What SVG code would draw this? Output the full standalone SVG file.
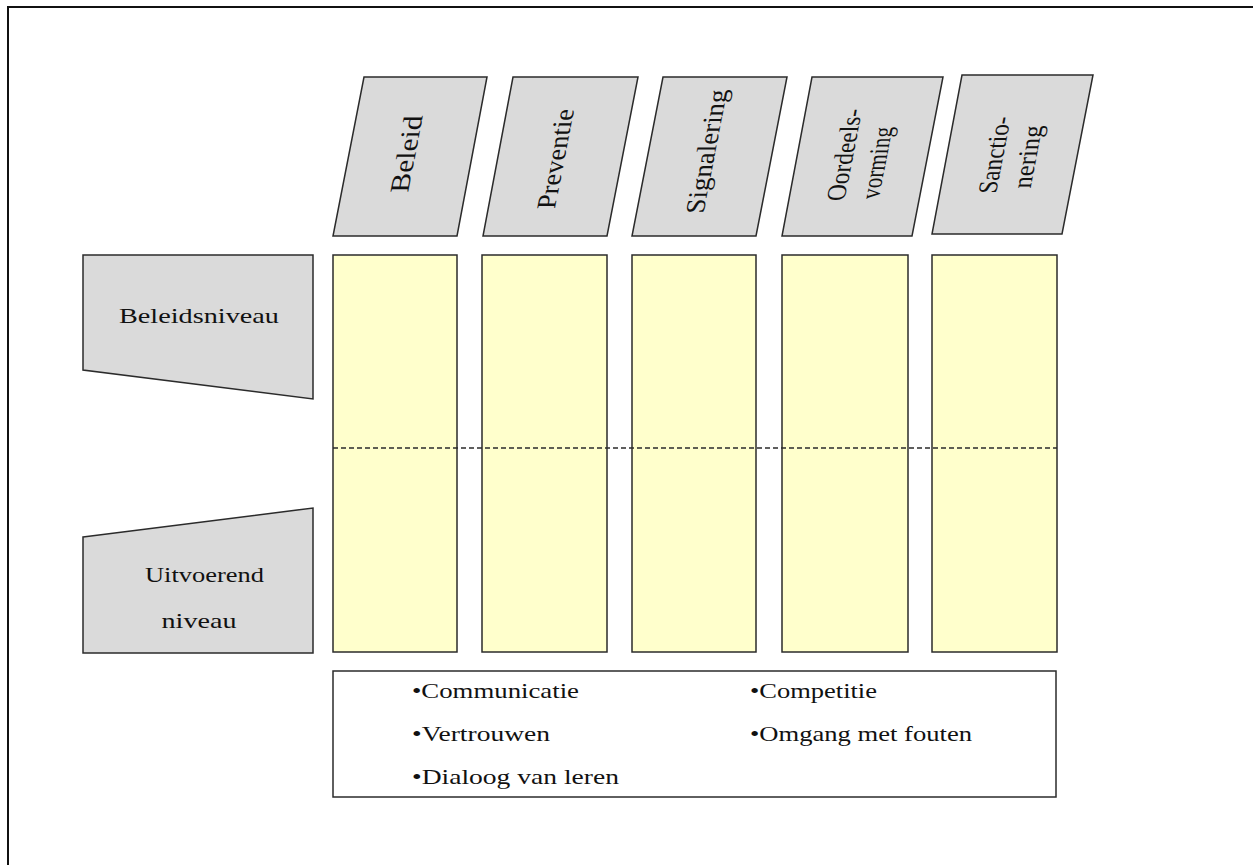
<svg xmlns="http://www.w3.org/2000/svg" width="1253" height="865" viewBox="0 0 1253 865">
  <style>
    .hdr { fill: #dadada; stroke: #2b2b2b; stroke-width: 1.5; }
    .col { fill: #ffffcc; stroke: #2b2b2b; stroke-width: 1.5; }
    .box { fill: #ffffff; stroke: #2b2b2b; stroke-width: 1.5; }
    .t { font-family: "Liberation Serif", "Times New Roman", serif; fill: #111; }
    .th { font-size: 27px; text-anchor: middle; }
    .tl { font-size: 22px; text-anchor: middle; }
    .tb { font-size: 21px; }
  </style>
  <rect width="1253" height="865" fill="#ffffff"/>
  <polyline points="8,865 8,7 1253,7" fill="none" stroke="#111" stroke-width="2"/>

  <g id="col-beleid"><rect class="col" x="333" y="255" width="124" height="397"/></g>
  <g id="col-preventie"><rect class="col" x="482" y="255" width="125" height="397"/></g>
  <g id="col-signalering"><rect class="col" x="632" y="255" width="124" height="397"/></g>
  <g id="col-oordeelsvorming"><rect class="col" x="782" y="255" width="126" height="397"/></g>
  <g id="col-sanctionering"><rect class="col" x="932" y="255" width="125" height="397"/></g>

  <g id="connectors">
    <line x1="333" y1="448" x2="1057" y2="448" stroke="#2b2b2b" stroke-width="1.3" stroke-dasharray="5,3"/>
  </g>

  <g id="hdr-beleid">
    <polygon class="hdr" points="364,77 487,77 457,236 333,236"/>
    <g transform="translate(410,156.5) skewX(-11) rotate(-90)">
      <text class="t th" x="2.5" y="5" textLength="77" lengthAdjust="spacingAndGlyphs">Beleid</text>
    </g>
  </g>
  <g id="hdr-preventie">
    <polygon class="hdr" points="513,77 638,77 607,236 483,236"/>
    <g transform="translate(560,156.5) skewX(-11) rotate(-90)">
      <text class="t th" x="-2.5" y="5" textLength="100" lengthAdjust="spacingAndGlyphs">Preventie</text>
    </g>
  </g>
  <g id="hdr-signalering">
    <polygon class="hdr" points="663,77 787,77 756,236 632,236"/>
    <g transform="translate(709.5,156.5) skewX(-11) rotate(-90)">
      <text class="t th" x="5" y="5" textLength="124" lengthAdjust="spacingAndGlyphs">Signalering</text>
    </g>
  </g>
  <g id="hdr-oordeelsvorming">
    <polygon class="hdr" points="812,77 943,77 912,236 782,236"/>
    <g transform="translate(862,156.5) skewX(-11) rotate(-90)">
      <text class="t th" x="1.5" y="-9" textLength="92" lengthAdjust="spacingAndGlyphs">Oordeels-</text>
      <text class="t th" x="-6.5" y="25" textLength="72" lengthAdjust="spacingAndGlyphs">vorming</text>
    </g>
  </g>
  <g id="hdr-sanctionering">
    <polygon class="hdr" points="962,75 1093,75 1062,234 932,234"/>
    <g transform="translate(1012,154.5) skewX(-11) rotate(-90)">
      <text class="t th" x="-0.5" y="-8.5" textLength="77" lengthAdjust="spacingAndGlyphs">Sanctio-</text>
      <text class="t th" x="-2.5" y="25" textLength="63" lengthAdjust="spacingAndGlyphs">nering</text>
    </g>
  </g>

  <g id="lvl-beleidsniveau">
    <polygon class="hdr" points="83,255 313,255 313,399 83,370"/>
    <text class="t tl" x="199" y="323" textLength="160" lengthAdjust="spacingAndGlyphs">Beleidsniveau</text>
  </g>
  <g id="lvl-uitvoerend">
    <polygon class="hdr" points="83,537 313,508 313,653 83,653"/>
    <text class="t tl" x="204.5" y="582" textLength="119" lengthAdjust="spacingAndGlyphs">Uitvoerend</text>
    <text class="t tl" x="199" y="628" textLength="75" lengthAdjust="spacingAndGlyphs">niveau</text>
  </g>

  <g id="factors">
    <rect class="box" x="333" y="671" width="723" height="126"/>
    <text class="t tb" x="412" y="698" textLength="167" lengthAdjust="spacingAndGlyphs">•Communicatie</text>
    <text class="t tb" x="412" y="741" textLength="138" lengthAdjust="spacingAndGlyphs">•Vertrouwen</text>
    <text class="t tb" x="412" y="784" textLength="207" lengthAdjust="spacingAndGlyphs">•Dialoog van leren</text>
    <text class="t tb" x="750" y="698" textLength="127" lengthAdjust="spacingAndGlyphs">•Competitie</text>
    <text class="t tb" x="750" y="741" textLength="222" lengthAdjust="spacingAndGlyphs">•Omgang met fouten</text>
  </g>
</svg>
